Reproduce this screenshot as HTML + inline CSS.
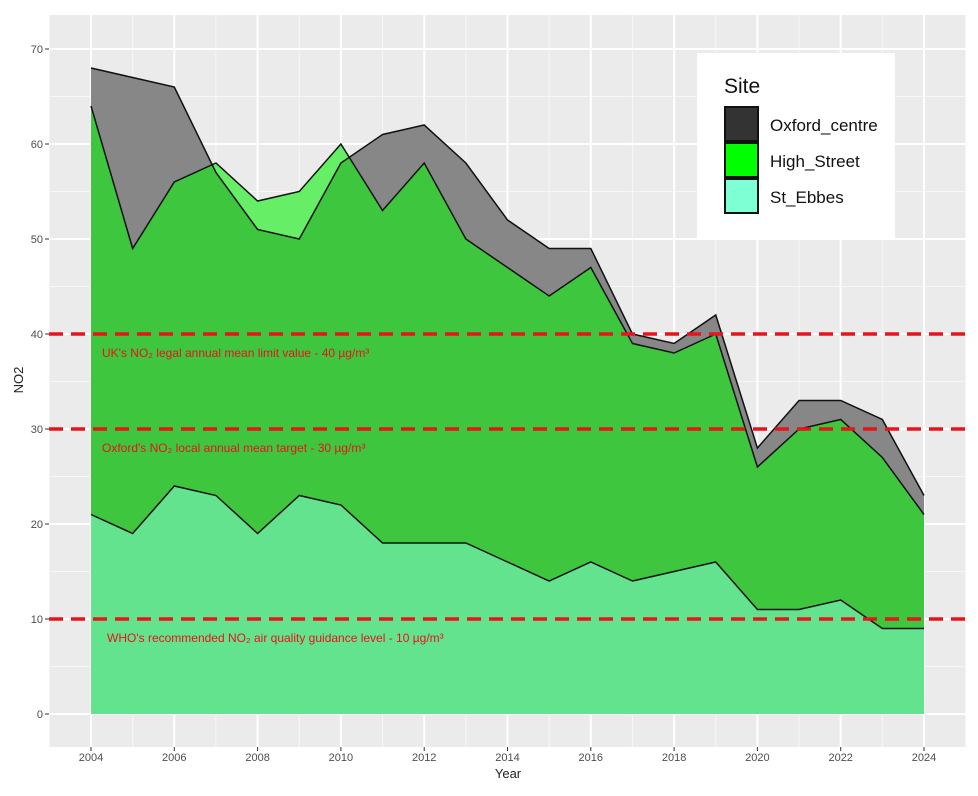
<!DOCTYPE html>
<html><head><meta charset="utf-8"><style>
body{margin:0;background:#fff;width:978px;height:791px;overflow:hidden}
svg text{font-family:"Liberation Sans",Arial,sans-serif}
</style></head><body>
<svg id="s" width="978" height="791" xmlns="http://www.w3.org/2000/svg"></svg>
<script>
const s=document.getElementById('s');
const X=y=>91+41.65*(y-2004), Y=v=>714-9.5*v;
const ox=[68,67,66,57,51,50,58,61,62,58,52,49,49,40,39,42,28,33,33,31,23];
const hs=[64,49,56,58,54,55,60,53,58,50,47,44,47,39,38,40,26,30,31,27,21];
const se=[21,19,24,23,19,23,22,18,18,18,16,14,16,14,15,16,11,11,12,9,9];
let h='<rect x="49" y="15" width="917" height="732" fill="#ebebeb"/>';
for(let v=5;v<=70;v+=10)h+=`<line x1="49" x2="966" y1="${Y(v)}" y2="${Y(v)}" stroke="#f7f7f7" stroke-width="1"/>`;
for(let yr=2003;yr<=2025;yr+=2)h+=`<line y1="15" y2="747" x1="${X(yr)}" x2="${X(yr)}" stroke="#f7f7f7" stroke-width="1"/>`;
for(let v=0;v<=70;v+=10)h+=`<line x1="49" x2="966" y1="${Y(v)}" y2="${Y(v)}" stroke="#fff" stroke-width="2"/>`;
for(let yr=2004;yr<=2024;yr+=2)h+=`<line y1="15" y2="747" x1="${X(yr)}" x2="${X(yr)}" stroke="#fff" stroke-width="2"/>`;
const pts=d=>d.map((v,i)=>`${X(2004+i)},${Y(v)}`).join(' ');
function area(d,fill){return `<polygon points="${X(2004)},${Y(0)} ${pts(d)} ${X(2024)},${Y(0)}" fill="${fill}"/>`;}
h+=area(ox,'#878787');
h+=area(hs,'#3ec63e');
const c1=2006+10/11, v1=66+(57-66)*10/11, c2=2010.2, v2=60+(53-60)*0.2;
let lp=`${X(c1)},${Y(v1)} `;
for(let i=3;i<=6;i++)lp+=`${X(2004+i)},${Y(hs[i])} `;
lp+=`${X(c2)},${Y(v2)} `;
for(let i=6;i>=3;i--)lp+=`${X(2004+i)},${Y(ox[i])} `;
h+=`<polygon points="${lp}" fill="#66ee66"/>`;
h+=area(se,'#64e38f');
for(const d of [ox,hs,se])h+=`<polyline points="${pts(d)}" fill="none" stroke="#111" stroke-width="1.5"/>`;
for(const v of [40,30,10])h+=`<line x1="49" x2="966" y1="${Y(v)}" y2="${Y(v)}" stroke="#e8141a" stroke-width="3.5" stroke-dasharray="14,8"/>`;
h+=`<text x="102" y="357" font-size="12" fill="#e8141a">UK's NO₂ legal annual mean limit value - 40 µg/m³</text>`;
h+=`<text x="102" y="452" font-size="12" fill="#e8141a">Oxford's NO₂ local annual mean target - 30 µg/m³</text>`;
h+=`<text x="107" y="642" font-size="12" fill="#e8141a">WHO's recommended NO₂ air quality guidance level - 10 µg/m³</text>`;
for(let v=0;v<=70;v+=10)h+=`<text x="43" y="${Y(v)+4}" font-size="11" fill="#4d4d4d" text-anchor="end">${v}</text><line x1="45" x2="49" y1="${Y(v)}" y2="${Y(v)}" stroke="#333"/>`;
for(let yr=2004;yr<=2024;yr+=2)h+=`<text x="${X(yr)}" y="761" font-size="11" fill="#4d4d4d" text-anchor="middle">${yr}</text><line y1="747" y2="751" x1="${X(yr)}" x2="${X(yr)}" stroke="#333"/>`;
h+=`<text x="508" y="778" font-size="13" text-anchor="middle" fill="#222">Year</text>`;
h+=`<text transform="translate(23,380) rotate(-90)" font-size="13" text-anchor="middle" fill="#222">NO2</text>`;
h+=`<rect x="697" y="53" width="198" height="186" fill="#fff"/>`;
h+=`<text x="724" y="93" font-size="21" fill="#111">Site</text>`;
const L=[['#333333','Oxford_centre',107],['#00ff00','High_Street',143],['#7fffd4','St_Ebbes',179]];
for(const [c,t,y] of L)h+=`<rect x="725" y="${y}" width="33" height="34" fill="${c}" stroke="#111" stroke-width="2"/><text x="770" y="${y+24}" font-size="17" fill="#111">${t}</text>`;
s.innerHTML=h;
</script>
</body></html>
